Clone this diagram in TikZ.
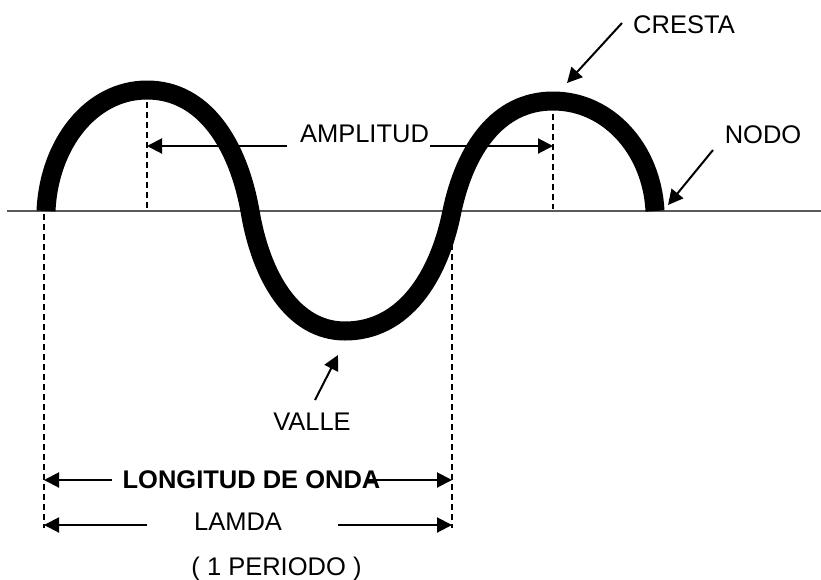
\documentclass[tikz,border=0pt]{standalone}
\usepackage{fontspec}
\setmainfont{Liberation Sans}
\usetikzlibrary{arrows.meta}
\begin{document}
\begin{tikzpicture}[x=1pt,y=-1pt,
  lbl/.style={inner sep=0pt,anchor=base,font=\fontsize{25.5}{30}\selectfont},
  arr/.style={line width=2pt,-{Triangle[length=15pt,width=15pt]}},
  guide/.style={line width=1.6pt,dash pattern=on 6pt off 4pt},
  wave/.style={line width=19pt,line cap=butt,line join=round}]
\useasboundingbox (0,0) rectangle (821,579);
% axis
\coordinate (axL) at (7,211);
\coordinate (axR) at (821,211);
\draw[line width=1.5pt,black!65] (axL) -- (axR);
% wave key points
\coordinate (n0) at (46,211);
\coordinate (c1) at (147,90);
\coordinate (n1) at (250,211);
\coordinate (t1) at (345,331);
\coordinate (n2) at (452,211);
\coordinate (c2) at (553,101);
\coordinate (n3) at (655,211);
% dashed guides
\coordinate (g1t) at (147,102);
\coordinate (g1b) at (147,209);
\coordinate (g2t) at (553,114);
\coordinate (g2b) at (553,209);
\coordinate (gLt) at (44,214);
\coordinate (gLb) at (44,528);
\coordinate (gRt) at (452,214);
\coordinate (gRb) at (452,528);
\draw[guide] (g1t) -- (g1b);
\draw[guide] (g2t) -- (g2b);
\draw[guide] (gLt) -- (gLb);
\draw[guide] (gRt) -- (gRb);
% wave
\draw[wave] (n0) .. controls (49,144) and (91,90) .. (c1)
  .. controls (204,90) and (238,144) .. (n1)
  .. controls (261,277) and (293,331) .. (t1)
  .. controls (404,331) and (439,277) .. (n2)
  .. controls (465,150) and (497,101) .. (c2)
  .. controls (609,101) and (652,150) .. (n3);
% labels
\node[lbl] (cresta) at (684,33) {CRESTA};
\node[lbl] (nodo) at (763,143) {NODO};
\node[lbl] (ampl) at (364.5,142) {AMPLITUD};
\node[lbl] (valle) at (312,430) {VALLE};
\node[lbl,font=\fontsize{25.5}{30}\selectfont\bfseries] (longitud) at (251.5,488) {LONGITUD DE ONDA};
\node[lbl] (lamda) at (238,530) {LAMDA};
\node[lbl] (periodo) at (276.5,575) {( 1 PERIODO )};
% pointer arrows
\coordinate (crestaS) at (622,23);
\coordinate (crestaT) at (567,83);
\coordinate (nodoS) at (713,150);
\coordinate (nodoT) at (668,205);
\coordinate (valleS) at (315,400);
\coordinate (valleT) at (338,355);
\draw[arr] (crestaS) -- (crestaT);
\draw[arr] (nodoS) -- (nodoT);
\draw[arr] (valleS) -- (valleT);
% amplitude arrows
\coordinate (amL) at (287,146);
\coordinate (amR) at (430,146);
\coordinate (amLT) at (147,146);
\coordinate (amRT) at (553,146);
\draw[arr] (amL) -- (amLT);
\draw[arr] (amR) -- (amRT);
% wavelength arrows
\coordinate (loL) at (112,480);
\coordinate (loR) at (367,480);
\coordinate (loLT) at (44,480);
\coordinate (loRT) at (452,480);
\draw[arr] (loL) -- (loLT);
\draw[arr] (loR) -- (loRT);
\coordinate (laL) at (147,525);
\coordinate (laR) at (338,525);
\coordinate (laLT) at (44,525);
\coordinate (laRT) at (452,525);
\draw[arr] (laL) -- (laLT);
\draw[arr] (laR) -- (laRT);
\end{tikzpicture}
\end{document}
